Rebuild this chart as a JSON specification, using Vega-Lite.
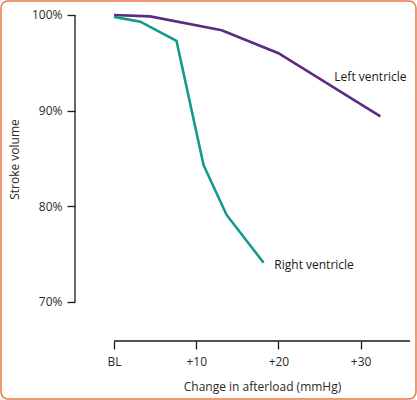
{
  "$schema": "https://vega.github.io/schema/vega-lite/v6.json",
  "width": 415,
  "height": 398,
  "padding": 1,
  "autosize": {"type": "none"},
  "background": "white",
  "config": {
    "font": "Open Sans",
    "view": {"stroke": "#ec7a45", "strokeWidth": 1.5, "cornerRadius": 7},
    "axis": {
      "grid": false,
      "domain": false,
      "tickColor": "#1a1a1a",
      "tickWidth": 1.3,
      "tickSize": 8,
      "labelColor": "#2a2a2a",
      "labelFontSize": 12,
      "labelFont": "Open Sans",
      "titleFont": "Open Sans",
      "titleFontSize": 12,
      "titleFontWeight": "normal",
      "titleColor": "#2a2a2a"
    }
  },
  "datasets": {
    "curves": [
      {"ventricle": "Left ventricle", "afterload": 0, "sv": 100.0},
      {"ventricle": "Left ventricle", "afterload": 4.4, "sv": 99.85},
      {"ventricle": "Left ventricle", "afterload": 13.1, "sv": 98.4},
      {"ventricle": "Left ventricle", "afterload": 20.0, "sv": 96.0},
      {"ventricle": "Left ventricle", "afterload": 32.4, "sv": 89.4},
      {"ventricle": "Right ventricle", "afterload": 0, "sv": 99.8},
      {"ventricle": "Right ventricle", "afterload": 3.2, "sv": 99.3},
      {"ventricle": "Right ventricle", "afterload": 7.6, "sv": 97.3},
      {"ventricle": "Right ventricle", "afterload": 10.9, "sv": 84.3},
      {"ventricle": "Right ventricle", "afterload": 13.7, "sv": 79.1},
      {"ventricle": "Right ventricle", "afterload": 18.2, "sv": 74.1}
    ],
    "labels": [
      {"ventricle": "Left ventricle", "afterload": 26.8, "sv": 93.5},
      {"ventricle": "Right ventricle", "afterload": 19.5, "sv": 73.9}
    ],
    "one": [{"id": 1}]
  },
  "layer": [
    {
      "data": {"name": "one"},
      "mark": {"type": "rule", "color": "#1a1a1a", "strokeWidth": 1.3},
      "encoding": {
        "x": {"datum": 0, "type": "quantitative", "scale": {"domain": [-13.74, 36.73], "nice": false, "zero": false}},
        "x2": {"datum": 36},
        "y": {"datum": 65.92, "type": "quantitative", "scale": {"domain": [59.86, 101.46], "nice": false, "zero": false}}
      }
    },
    {
      "data": {"name": "one"},
      "mark": {"type": "rule", "color": "#1a1a1a", "strokeWidth": 1.3},
      "encoding": {
        "x": {"datum": -4.74, "type": "quantitative"},
        "y": {"datum": 70, "type": "quantitative"},
        "y2": {"datum": 100}
      }
    },
    {
      "data": {"name": "curves"},
      "mark": {"type": "line", "strokeWidth": 2.6, "strokeJoin": "miter"},
      "encoding": {
        "x": {
          "field": "afterload",
          "type": "quantitative",
          "scale": {"domain": [-13.74, 36.73], "nice": false, "zero": false},
          "axis": {
            "orient": "bottom",
            "offset": -58,
            "values": [0, 10, 20, 30],
            "labelExpr": "datum.value == 0 ? 'BL' : '+' + datum.value",
            "labelPadding": 7,
            "title": "Change in afterload (mmHg)",
            "titlePadding": 14,
            "titleX": 261
          }
        },
        "y": {
          "field": "sv",
          "type": "quantitative",
          "scale": {"domain": [59.86, 101.46], "nice": false, "zero": false},
          "axis": {
            "orient": "left",
            "offset": -74,
            "values": [70, 80, 90, 100],
            "labelExpr": "datum.value + '%'",
            "labelPadding": 5,
            "title": "Stroke volume",
            "titlePadding": 10,
            "titleY": 158
          }
        },
        "color": {
          "field": "ventricle",
          "type": "nominal",
          "scale": {"domain": ["Left ventricle", "Right ventricle"], "range": ["#5b2c82", "#13998a"]},
          "legend": null
        }
      }
    },
    {
      "data": {"name": "labels"},
      "mark": {"type": "text", "align": "left", "baseline": "middle", "fontSize": 12, "color": "#1a1a1a", "font": "Open Sans"},
      "encoding": {
        "x": {"field": "afterload", "type": "quantitative"},
        "y": {"field": "sv", "type": "quantitative"},
        "text": {"field": "ventricle"}
      }
    }
  ]
}
